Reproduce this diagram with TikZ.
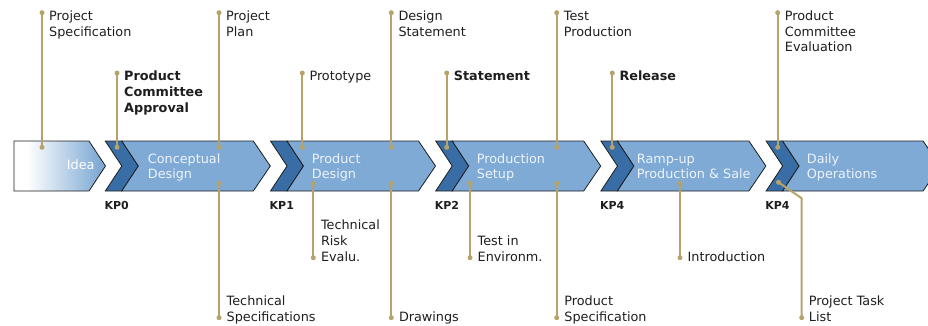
\documentclass[tikz,border=0pt]{standalone}
\usepackage{fontspec}
\usetikzlibrary{calc}
\setmainfont{DejaVu Sans}
\definecolor{lblue}{HTML}{7EAAD5}
\definecolor{dblue}{HTML}{386DA6}
\definecolor{gold}{HTML}{B6A26B}
\definecolor{stxt}{HTML}{EEF3F9}
\definecolor{txt}{HTML}{1E1E1E}
\pgfdeclarehorizontalshading{ideashade}{100bp}{color(0bp)=(white); color(32bp)=(white); color(72bp)=(lblue); color(100bp)=(lblue)}
\newcommand\lblfont{\fontsize{12.8}{15.8}\selectfont}
\newcommand\shpfont{\fontsize{12.8}{15}\selectfont}
\newcommand\kpfont{\fontsize{11}{13}\selectfont\bfseries}
\begin{document}
\begin{tikzpicture}[x=1pt,y=-1pt,
  edge/.style={draw=black!88, line width=0.8pt, line join=miter},
  darkchev/.style={edge, fill=dblue},
  lightchev/.style={edge, fill=lblue},
  pinline/.style={draw=gold, line width=2pt},
  pindot/.style={fill=gold},
  toplbl/.style={anchor=north west, inner sep=0pt, align=left, font=\lblfont, text=txt},
  botlbl/.style={anchor=south west, inner sep=0pt, align=left, font=\lblfont, text=txt},
  stext/.style={anchor=north west, inner sep=0pt, align=left, font=\shpfont, text=stxt},
  kplbl/.style={anchor=base west, inner sep=0pt, font=\kpfont, text=txt}]
\useasboundingbox (0,0) rectangle (928,325);
\clip (0,0) rectangle (928,325);

% Idea box
\shadedraw[shading=ideashade, edge] (14,141) -- (89,141) -- (105.5,166) -- (89,191) -- (14,191) -- cycle;
\node[anchor=base west, inner sep=0pt, font=\shpfont, text=white] (idea) at (66.7,169.3) {Idea};

% Chevrons
\foreach \s/\w/\k/\n in {105.3/148/KP0/kpa, 270.5/148/KP1/kpb, 435.7/148/KP2/kpc, 600.9/148/KP4/kpd, 766.1/157/KP4/kpe}{
  \draw[darkchev] (\s,141) -- ++(16.5,0) -- ++(16.5,25) -- ++(-16.5,25) -- ++(-16.5,0) -- ++(16.5,-25) -- cycle;
  \draw[lightchev] (\s+16.5,141) -- (\s+\w,141) -- (\s+\w+17,166) -- (\s+\w,191) -- (\s+16.5,191) -- (\s+33,166) -- cycle;
  \node[kplbl] (\n) at (\s-1,209.3) {\k};
}

% Shape texts
\node[stext] (cd) at (147.7,152.5) {\strut Conceptual\\Design};
\node[stext] (pd) at (311.7,152.5) {\strut Product\\Design};
\node[stext] (ps) at (476.7,152.5) {\strut Production\\Setup};
\node[stext] (rp) at (636.7,152.5) {\strut Ramp-up\\Production \& Sale};
\node[stext] (do) at (806.7,152.5) {\strut Daily\\Operations};

% Top pins
\foreach \n/\x/\y/\t in {
  a/42/12.7/{Project\\Specification},
  b/117/73/{\bfseries Product\\\bfseries Committee\\\bfseries Approval},
  c/219/12.7/{Project\\Plan},
  d/302.3/73/{Prototype},
  e/391.3/12.7/{Design\\Statement},
  f/446.7/73/{\bfseries Statement},
  g/556.7/12.7/{Test\\Production},
  h/612.3/73/{\bfseries Release},
  i/777.7/12.7/{Product\\Committee\\Evaluation}}{
  \coordinate (t\n) at (\x,\y);
  \coordinate (u\n) at (\x,147.3);
  \draw[pinline] (t\n) -- (u\n);
  \fill[pindot] (t\n) circle (2.5);
  \fill[pindot] (u\n) circle (2.5);
  \node[toplbl] (l\n) at ($(t\n)+(7,-3.6)$) {\strut\t};
}

% Bottom pins
\foreach \n/\x/\y/\t in {
  a/219/317.7/{Technical\\Specifications},
  b/313.3/257.7/{Technical\\Risk\\Evalu.},
  c/391.3/317.7/{Drawings},
  d/470/257.7/{Test in\\Environm.},
  e/556.7/317.7/{Product\\Specification},
  f/680/257.7/{Introduction}}{
  \coordinate (v\n) at (\x,183.3);
  \coordinate (w\n) at (\x,\y);
  \draw[pinline] (v\n) -- (w\n);
  \fill[pindot] (v\n) circle (2.5);
  \fill[pindot] (w\n) circle (2.5);
  \node[botlbl] (m\n) at ($(w\n)+(7.5,8.7)$) {\t\strut};
}

% Project Task List pin
\coordinate (vg) at (778.5,182.3);
\coordinate (bend) at (801.7,198.3);
\coordinate (wg) at (801.7,317.7);
\draw[pinline, line join=round] (vg) -- (bend) -- (wg);
\fill[pindot] (vg) circle (2.5);
\fill[pindot] (wg) circle (2.5);
\node[botlbl] (mg) at ($(wg)+(7,8.7)$) {Project Task\\List\strut};
\end{tikzpicture}
\end{document}
